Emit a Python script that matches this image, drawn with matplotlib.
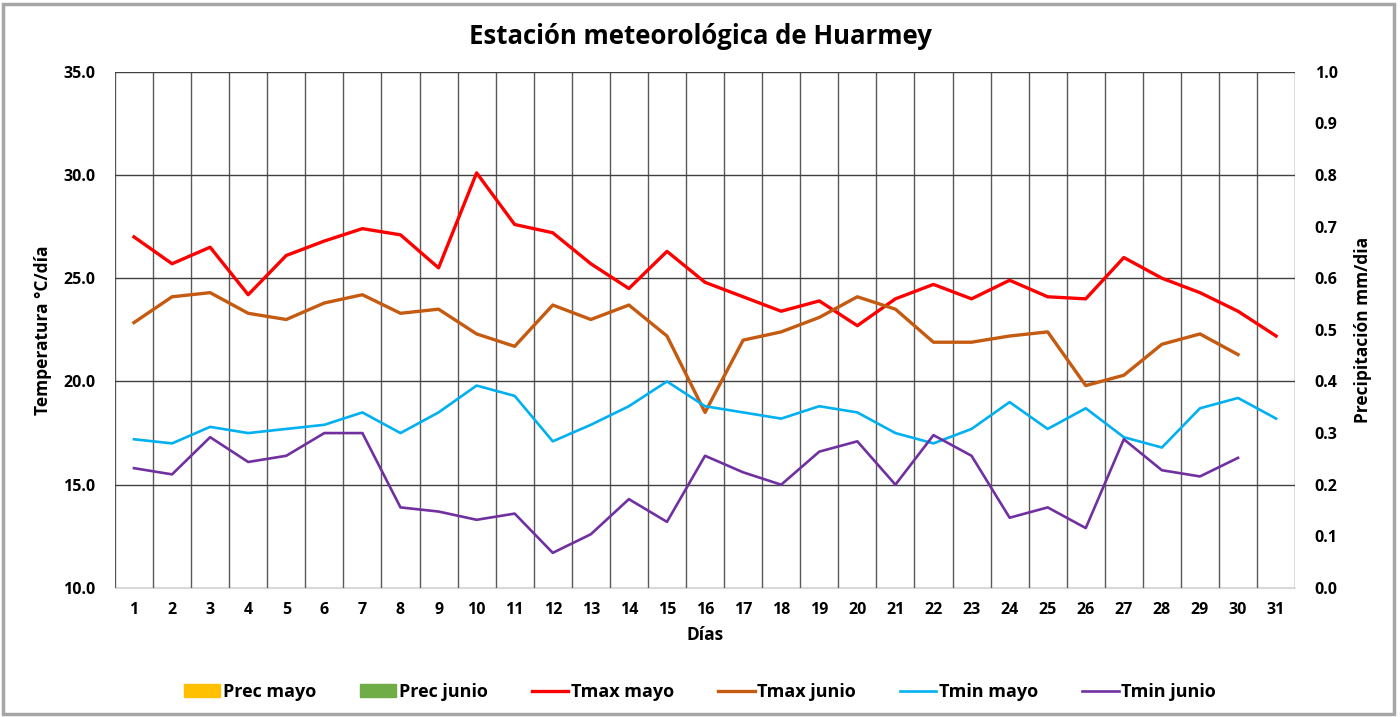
import numpy as np
import matplotlib
matplotlib.use("Agg")
import matplotlib.pyplot as plt
from matplotlib.patches import Rectangle, Patch
from matplotlib.lines import Line2D

plt.rcParams['font.family'] = ['Open Sans', 'DejaVu Sans']
plt.rcParams['font.weight'] = 'bold'

dias = list(range(1, 32))

prec_mayo = [0.0] * 31
prec_junio = [0.0] * 30

tmax_mayo = [27.0, 25.7, 26.5, 24.2, 26.1, 26.8, 27.4, 27.1, 25.5, 30.1,
             27.6, 27.2, 25.7, 24.5, 26.3, 24.8, 24.1, 23.4, 23.9, 22.7,
             24.0, 24.7, 24.0, 24.9, 24.1, 24.0, 26.0, 25.0, 24.3, 23.4, 22.2]
tmax_junio = [22.85, 24.1, 24.3, 23.3, 23.0, 23.8, 24.2, 23.3, 23.5, 22.3,
              21.7, 23.7, 23.0, 23.7, 22.2, 18.5, 22.0, 22.4, 23.1, 24.1,
              23.5, 21.9, 21.9, 22.2, 22.4, 19.8, 20.3, 21.8, 22.3, 21.3]
tmin_mayo = [17.2, 17.0, 17.8, 17.5, 17.7, 17.9, 18.5, 17.5, 18.5, 19.8,
             19.3, 17.1, 17.9, 18.8, 20.0, 18.8, 18.5, 18.2, 18.8, 18.5,
             17.5, 17.0, 17.7, 19.0, 17.7, 18.7, 17.3, 16.8, 18.7, 19.2, 18.2]
tmin_junio = [15.8, 15.5, 17.3, 16.1, 16.4, 17.5, 17.5, 13.9, 13.7, 13.3,
              13.6, 11.7, 12.6, 14.3, 13.2, 16.4, 15.6, 15.0, 16.6, 17.1,
              15.0, 17.4, 16.4, 13.4, 13.9, 12.9, 17.2, 15.7, 15.4, 16.3]

c_pm, c_pj = '#FFC000', '#70AD47'
c_txm, c_txj = '#FF0000', '#C55A11'
c_tnm, c_tnj = '#00B0F0', '#7030A0'

fig = plt.figure(figsize=(14, 7.17), dpi=100)
fig.patches.append(Rectangle((0.002, 0.004), 0.994, 0.99, transform=fig.transFigure,
                             fill=False, edgecolor='#A6A6A6', linewidth=2.5))

ax = fig.add_axes([0.0821, 0.18, 0.843, 0.72])
ax2 = ax.twinx()

# barras de precipitacion (eje derecho)
ax2.bar(np.array(dias) - 0.2, prec_mayo, width=0.4, color=c_pm)
ax2.bar(np.array(dias[:30]) + 0.2, prec_junio, width=0.4, color=c_pj)
ax2.set_ylim(0, 1.0)
ax2.set_yticks(np.arange(0, 1.01, 0.1))
ax2.set_yticklabels([f"{v:.1f}" for v in np.arange(0, 1.01, 0.1)])
ax2.set_ylabel("Precipitación mm/dia", fontsize=12.5, fontweight='bold', labelpad=12)

ax.plot(dias, tmax_mayo, color=c_txm, lw=2.4, zorder=5)
ax.plot(dias[:30], tmax_junio, color=c_txj, lw=2.4, zorder=5)
ax.plot(dias, tmin_mayo, color=c_tnm, lw=1.9, zorder=5)
ax.plot(dias[:30], tmin_junio, color=c_tnj, lw=1.9, zorder=5)
ax.set_zorder(ax2.get_zorder() + 1)
ax.patch.set_visible(False)

ax.set_xlim(0.5, 31.5)
ax.set_ylim(10, 35)
ax.set_yticks(np.arange(10, 35.1, 5))
ax.set_yticklabels([f"{v:.1f}" for v in np.arange(10, 35.1, 5)])
ax.set_xticks(dias)
ax.set_xticks(np.arange(0.5, 31.6, 1), minor=True)
ax.grid(True, which='minor', axis='x', color='#595959', lw=1.0)
ax.grid(True, which='major', axis='y', color='#404040', lw=1.0)
ax.tick_params(which='both', length=0)
ax.tick_params(axis='x', pad=10)
ax.tick_params(axis='y', pad=14)
ax2.tick_params(length=0, pad=14)
for a in (ax, ax2):
    for lab in a.get_xticklabels() + a.get_yticklabels():
        lab.set_fontsize(11.5)
        lab.set_fontweight('bold')
    for s in a.spines.values():
        s.set_visible(False)
ax.spines['bottom'].set_visible(True)
ax.spines['bottom'].set_color('#D9D9D9')

ax.set_xlabel("Días", fontsize=12.5, fontweight='bold', labelpad=6)
ax.set_ylabel("Temperatura °C/día", fontsize=12.5, fontweight='bold', labelpad=8)
fig.suptitle("Estación meteorológica de Huarmey", fontsize=18.5, fontweight='bold', y=0.968)

handles = [Patch(color=c_pm), Patch(color=c_pj),
           Line2D([], [], color=c_txm, lw=2.4), Line2D([], [], color=c_txj, lw=2.4),
           Line2D([], [], color=c_tnm, lw=1.9), Line2D([], [], color=c_tnj, lw=1.9)]
labels = ["Prec mayo", "Prec junio", "Tmax mayo", "Tmax junio", "Tmin mayo", "Tmin junio"]
fig.legend(handles, labels, loc='center', bbox_to_anchor=(0.5, 0.035), ncol=6, frameon=False,
           fontsize=13, handlelength=2.0, handletextpad=0.15, columnspacing=2.45)

fig.savefig("out.png", dpi=100)
